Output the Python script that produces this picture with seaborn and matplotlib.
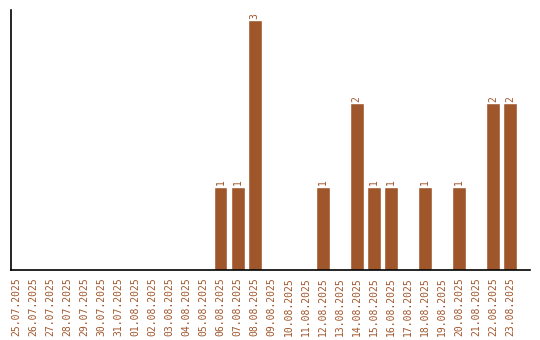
import matplotlib
matplotlib.use("Agg")
import matplotlib.pyplot as plt
import seaborn as sns
import pandas as pd

dates = ["25.07.2025", "26.07.2025", "27.07.2025", "28.07.2025", "29.07.2025",
         "30.07.2025", "31.07.2025", "01.08.2025", "02.08.2025", "03.08.2025",
         "04.08.2025", "05.08.2025", "06.08.2025", "07.08.2025", "08.08.2025",
         "09.08.2025", "10.08.2025", "11.08.2025", "12.08.2025", "13.08.2025",
         "14.08.2025", "15.08.2025", "16.08.2025", "17.08.2025", "18.08.2025",
         "19.08.2025", "20.08.2025", "21.08.2025", "22.08.2025", "23.08.2025"]
counts = [0, 0, 0, 0, 0, 0, 0, 0, 0, 0, 0, 0, 1, 1, 3, 0, 0, 0, 1, 0,
          2, 1, 1, 0, 1, 0, 1, 0, 2, 2]

BROWN = "#A0562B"

sns.set_style("white")
plt.rcParams["font.family"] = ["DejaVu Sans Mono"]

df = pd.DataFrame({"date": dates, "count": counts})

fig = plt.figure(figsize=(5.4, 3.4), dpi=100)
ax = fig.add_axes([11 / 540, 70 / 340, 519 / 540, 260 / 340])
sns.barplot(data=df, x="date", y="count", color=BROWN, saturation=1,
            width=0.82, ax=ax)

for c in ax.containers:
    labels = [str(int(v)) if v > 0 else "" for v in c.datavalues]
    ax.bar_label(c, labels=labels, rotation=90, padding=1, fontsize=7,
                 color=BROWN)

ax.set_xlim(-0.3, 30.17)
ax.set_ylim(0, 3.12)
ax.set_xlabel("")
ax.set_ylabel("")
ax.set_yticks([])
ax.tick_params(axis="x", length=0, pad=5, labelsize=7, labelcolor=BROWN,
               rotation=90)
for s in ["top", "right"]:
    ax.spines[s].set_visible(False)
for s in ["left", "bottom"]:
    ax.spines[s].set_color("black")
    ax.spines[s].set_linewidth(1.2)

fig.savefig("out.png", dpi=100)
